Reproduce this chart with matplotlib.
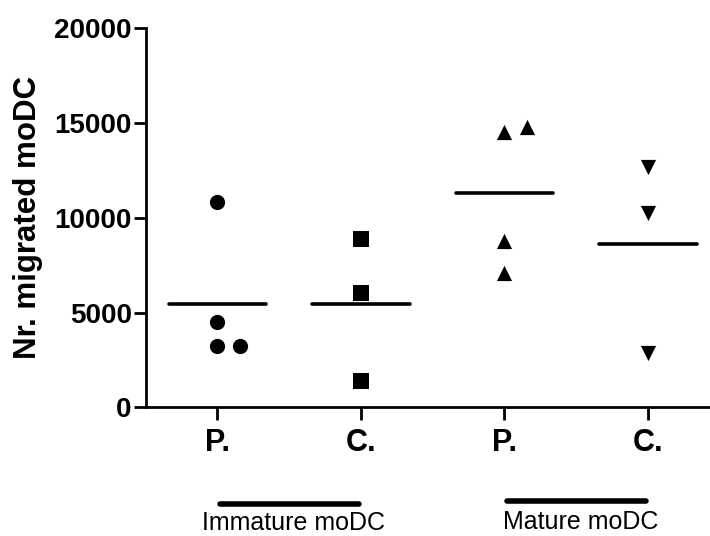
import numpy as np
import matplotlib.pyplot as plt
from matplotlib.transforms import blended_transform_factory

plt.rcParams['font.family'] = ['Liberation Sans', 'DejaVu Sans']

# valeurs
imm_p = [10850, 4520, 3250, 3250]
imm_c = [8870, 6050, 1400]
mat_p = [14550, 14770, 8800, 7100]
mat_c = [12670, 10260, 2890]

groups = [imm_p, imm_c, mat_p, mat_c]
tick_labels = ['P.', 'C.', 'P.', 'C.']
group_names = ['Immature moDC', 'Mature moDC']

# petit decalage horizontal (comme Prism) pour les points superposes
offsets = [[0, 0, 0, 0.16], [0, 0, 0], [0, 0.16, 0, 0], [0, 0, 0]]
markers = ['o', 's', '^', 'v']

fig = plt.figure(figsize=(7.1, 5.36), dpi=100)
ax = fig.add_axes([0.2052, 0.2401, 0.8083, 0.7071])

for i, vals in enumerate(groups):
    x = i + 1 + np.array(offsets[i])
    ax.scatter(x, vals, marker=markers[i], s=120, color='black', linewidths=0, zorder=3)
    m = np.mean(vals)
    ax.plot([i + 1 - 0.34, i + 1 + 0.34], [m, m], color='black', lw=2.6,
            solid_capstyle='round', zorder=2)

ax.set_xlim(0.5, 4.5)
ax.set_ylim(0, 20000)
ax.set_yticks([0, 5000, 10000, 15000, 20000])
ax.set_xticks([1, 2, 3, 4])
ax.set_xticklabels(tick_labels, fontsize=22, fontweight='bold')
for lab in ax.get_yticklabels():
    lab.set_fontsize(20)
    lab.set_fontweight('bold')

ax.spines['top'].set_visible(False)
ax.spines['right'].set_visible(False)
ax.spines['left'].set_linewidth(2)
ax.spines['bottom'].set_linewidth(2)
ax.tick_params(axis='y', length=9, width=2, pad=1)
ax.tick_params(axis='x', length=9, width=2, pad=6)

ax.set_ylabel('Nr. migrated moDC', fontsize=22.5, fontweight='bold')
ax.yaxis.set_label_coords(-0.179, 0.5)

# barres et noms de groupes sous l'axe
trans = blended_transform_factory(ax.transData, ax.transAxes)
ax.plot([1.02, 1.99], [-0.254, -0.254], transform=trans, color='black', lw=4,
        solid_capstyle='round', clip_on=False)
ax.plot([3.02, 3.99], [-0.247, -0.247], transform=trans, color='black', lw=4,
        solid_capstyle='round', clip_on=False)
ax.text(1.53, -0.324, group_names[0], transform=trans, ha='center', va='baseline', fontsize=18)
ax.text(3.53, -0.321, group_names[1], transform=trans, ha='center', va='baseline', fontsize=18)

fig.savefig('out.png', dpi=100)
